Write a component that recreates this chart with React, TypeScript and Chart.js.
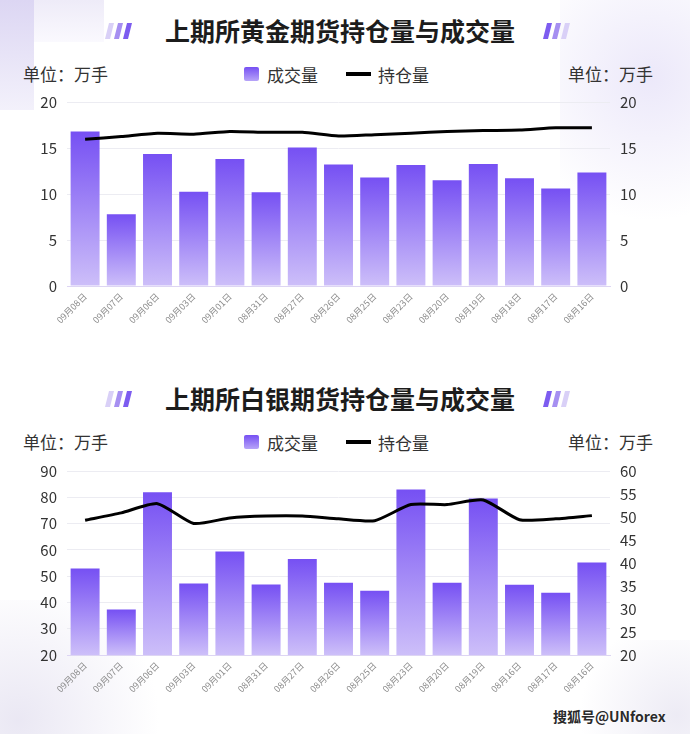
import React, { useEffect, useRef } from "react";
import { Chart, registerables } from "chart.js";

Chart.register(...registerables);

const FONT = '"Noto Sans CJK SC", "Noto Sans", sans-serif';

// ---- Data ----
const goldTitle = "上期所黄金期货持仓量与成交量";
const goldDates = ["09月08日", "09月07日", "09月06日", "09月03日", "09月01日", "08月31日", "08月27日", "08月26日", "08月25日", "08月23日", "08月20日", "08月19日", "08月18日", "08月17日", "08月16日"];
const goldVolume = [16.8, 7.8, 14.35, 10.25, 13.8, 10.2, 15.05, 13.2, 11.8, 13.15, 11.5, 13.25, 11.7, 10.6, 12.35];
const goldOpenInterest = [15.95, 16.25, 16.6, 16.5, 16.8, 16.7, 16.7, 16.3, 16.45, 16.6, 16.8, 16.9, 16.95, 17.2, 17.2];
const goldLeftTicks = { min: 0, max: 20, step: 5 };
const goldRightTicks = { min: 0, max: 20, step: 5 };

const silverTitle = "上期所白银期货持仓量与成交量";
const silverDates = ["09月08日", "09月07日", "09月06日", "09月03日", "09月01日", "08月31日", "08月27日", "08月26日", "08月25日", "08月23日", "08月20日", "08月19日", "08月16日", "08月17日", "08月16日"];
const silverVolume = [52.9, 37.3, 81.9, 47.2, 59.4, 46.8, 56.5, 47.5, 44.4, 83.0, 47.5, 79.5, 46.7, 43.7, 55.2];
const silverOpenInterest = [49.3, 50.9, 52.9, 48.6, 49.8, 50.2, 50.2, 49.6, 49.2, 52.7, 52.7, 53.7, 49.4, 49.6, 50.3];
const silverLeftTicks = { min: 20, max: 90, step: 10 };
const silverRightTicks = { min: 20, max: 60, step: 5 };

const unitLabel = "单位：万手";
const volumeLabel = "成交量";
const oiLabel = "持仓量";
const watermark = "搜狐号@UNforex";

type Range = { min: number; max: number; step: number };

const CANVAS_H = 243;

function ChartCanvas(props: {
  top: number;
  labels: string[];
  volume: number[];
  oi: number[];
  left: Range;
  right: Range;
}) {
  const ref = useRef<HTMLCanvasElement | null>(null);
  useEffect(() => {
    const canvas = ref.current;
    if (!canvas) return;
    const chart = new Chart(canvas, {
      type: "bar",
      data: {
        labels: props.labels,
        datasets: [
          {
            type: "line",
            label: oiLabel,
            data: props.oi,
            yAxisID: "y1",
            borderColor: "#000000",
            borderWidth: 3,
            pointRadius: 0,
            tension: 0.2,
            order: 0,
          } as any,
          {
            type: "bar",
            label: volumeLabel,
            data: props.volume,
            yAxisID: "y",
            categoryPercentage: 0.8,
            barPercentage: 1,
            order: 1,
            backgroundColor: (ctx: any) => {
              const c = ctx.chart;
              const area = c.chartArea;
              if (!area || ctx.type !== "data" || !c.scales.y) return "#9a7ef6";
              const topPx = c.scales.y.getPixelForValue(ctx.raw as number);
              const g = c.ctx.createLinearGradient(0, topPx, 0, area.bottom);
              g.addColorStop(0, "#7650f3");
              g.addColorStop(1, "#cdbff9");
              return g;
            },
          } as any,
        ],
      },
      options: {
        animation: false,
        responsive: false,
        maintainAspectRatio: false,
        layout: { padding: { top: 12, left: 30, right: 30, bottom: 0 } },
        plugins: { legend: { display: false }, tooltip: { enabled: false }, title: { display: false } },
        scales: {
          x: {
            grid: { display: false, drawTicks: false },
            border: { display: true, color: "#ddd5f3", width: 1 },
            ticks: {
              minRotation: 45,
              maxRotation: 45,
              autoSkip: false,
              padding: 5,
              color: "#8c8c8c",
              font: { size: 9, family: FONT },
            },
            afterFit: (s: any) => {
              s.height = 40;
            },
          },
          y: {
            position: "left",
            min: props.left.min,
            max: props.left.max,
            ticks: { stepSize: props.left.step, padding: 10, color: "#333333", font: { size: 15, family: FONT } },
            grid: { color: "#ececf2", drawTicks: false },
            border: { display: false },
            afterFit: (s: any) => {
              s.width = 37;
            },
          },
          y1: {
            position: "right",
            min: props.right.min,
            max: props.right.max,
            ticks: { stepSize: props.right.step, padding: 10, color: "#333333", font: { size: 15, family: FONT } },
            grid: { display: false, drawTicks: false },
            border: { display: false },
            afterFit: (s: any) => {
              s.width = 50;
            },
          },
        },
      } as any,
    });
    return () => chart.destroy();
  }, []);
  return (
    <canvas
      ref={ref}
      width={690}
      height={CANVAS_H}
      style={{ position: "absolute", left: 0, top: props.top, width: 690, height: CANVAS_H }}
    />
  );
}

function Decor(props: { left: number; top: number; reverse?: boolean }) {
  const colors = ["#d9d0f7", "#a68ff1", "#7d5cf0"];
  const cs = props.reverse ? [...colors].reverse() : colors;
  return (
    <div style={{ position: "absolute", left: props.left, top: props.top, width: 30, height: 16 }}>
      {cs.map((c, i) => (
        <div
          key={i}
          style={{
            position: "absolute",
            left: i * 9,
            top: 0,
            width: 5,
            height: 16,
            background: c,
            transform: "skewX(-14deg)",
          }}
        />
      ))}
    </div>
  );
}

function Header(props: { top: number; title: string }) {
  const t = props.top;
  const text: React.CSSProperties = { position: "absolute", fontFamily: FONT, color: "#333", fontSize: 17, lineHeight: "20px", whiteSpace: "nowrap" };
  return (
    <>
      <Decor left={107} top={t - 9} />
      <Decor left={545} top={t - 9} reverse />
      <div
        style={{
          position: "absolute",
          left: 0,
          width: 680,
          top: t - 19,
          textAlign: "center",
          fontFamily: FONT,
          fontWeight: 700,
          fontSize: 25,
          lineHeight: "34px",
          color: "#1c1c1c",
          whiteSpace: "nowrap",
        }}
      >
        {props.title}
      </div>
      <div style={{ ...text, left: 23, top: t + 32 }}>{unitLabel}</div>
      <div style={{ ...text, left: 568, top: t + 32 }}>{unitLabel}</div>
      <div
        style={{
          position: "absolute",
          left: 244,
          top: t + 35,
          width: 15,
          height: 14,
          background: "linear-gradient(#7650f3, #b7a4f8)",
          borderRadius: 2,
        }}
      />
      <div style={{ ...text, left: 267, top: t + 33 }}>{volumeLabel}</div>
      <div style={{ position: "absolute", left: 346, top: t + 40, width: 25, height: 4, background: "#000" }} />
      <div style={{ ...text, left: 378, top: t + 33 }}>{oiLabel}</div>
    </>
  );
}

export default function App() {
  return (
    <div
      style={{
        position: "fixed",
        left: 0,
        top: 0,
        width: 690,
        height: 734,
        background: "#ffffff",
        overflow: "hidden",
      }}
    >
      {/* faint background decoration */}
      <div style={{ position: "absolute", left: 0, top: 0, width: 34, height: 110, background: "linear-gradient(180deg, #dcd6f3, #f3f1fb)" }} />
      <div style={{ position: "absolute", left: 34, top: 0, width: 70, height: 42, background: "linear-gradient(180deg, #eeebf8, #faf9fe)" }} />
      <div style={{ position: "absolute", left: 560, top: 0, width: 130, height: 260, background: "radial-gradient(circle at 70% 30%, rgba(200,190,240,0.35), rgba(255,255,255,0) 70%)" }} />
      <div style={{ position: "absolute", left: 0, top: 600, width: 180, height: 134, background: "radial-gradient(circle at 10% 90%, rgba(220,216,236,0.6), rgba(255,255,255,0) 70%)" }} />
      <div style={{ position: "absolute", left: 560, top: 640, width: 130, height: 94, background: "radial-gradient(circle at 90% 80%, rgba(225,222,238,0.6), rgba(255,255,255,0) 70%)" }} />

      <Header top={32} title={goldTitle} />
      <ChartCanvas top={83} labels={goldDates} volume={goldVolume} oi={goldOpenInterest} left={goldLeftTicks} right={goldRightTicks} />

      <Header top={400} title={silverTitle} />
      <ChartCanvas top={452} labels={silverDates} volume={silverVolume} oi={silverOpenInterest} left={silverLeftTicks} right={silverRightTicks} />

      <div
        style={{
          position: "absolute",
          left: 553,
          top: 706,
          fontFamily: FONT,
          fontSize: 14,
          fontWeight: 700,
          color: "#2a2a2a",
          whiteSpace: "nowrap",
          textShadow: "0 0 2px #fff",
        }}
      >
        {watermark}
      </div>
    </div>
  );
}
